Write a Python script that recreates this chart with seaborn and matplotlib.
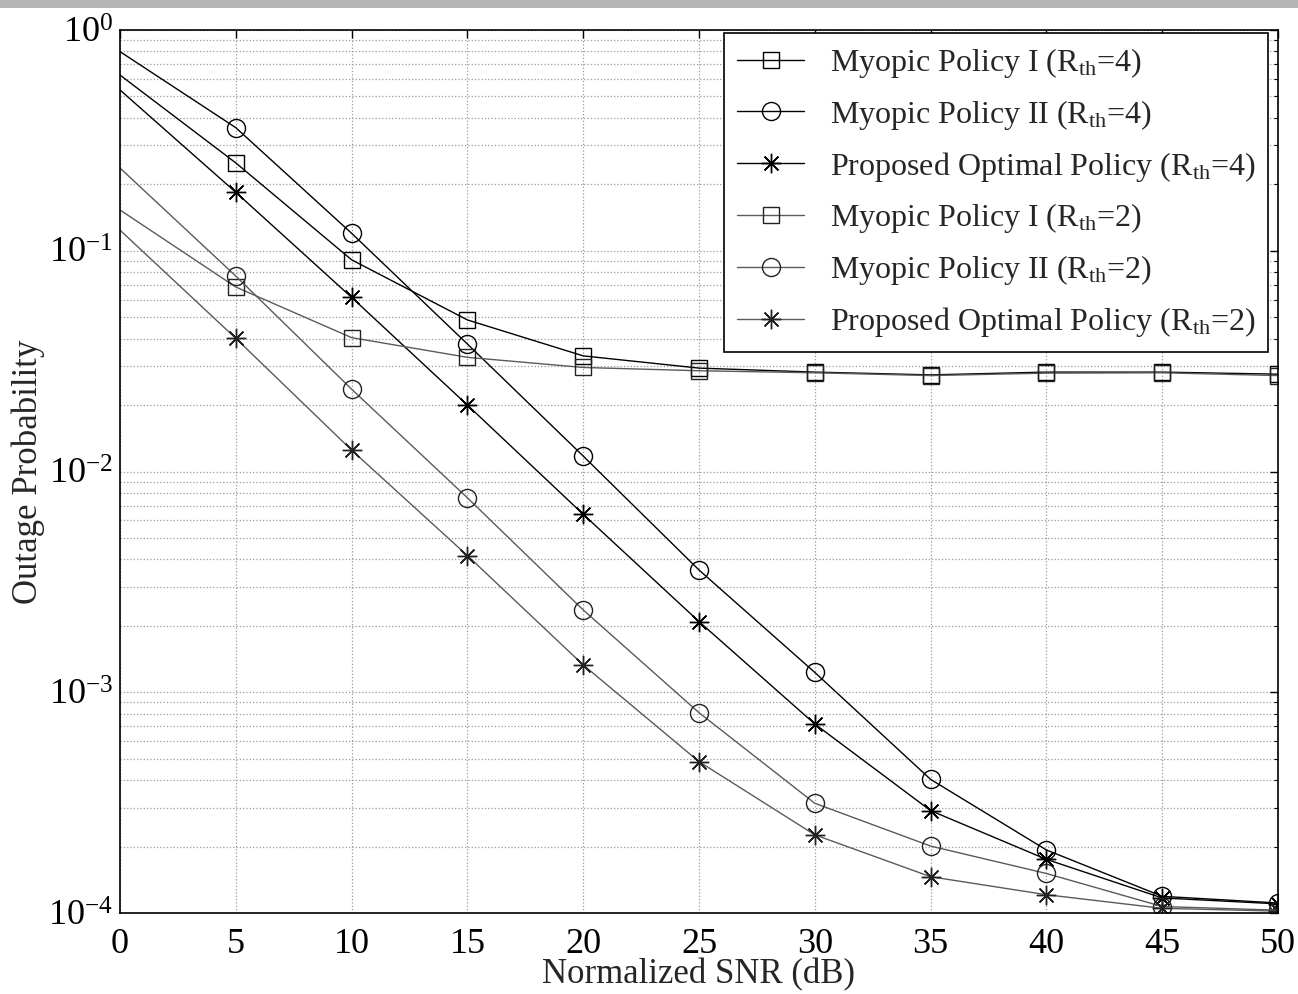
import numpy as np
import pandas as pd
import matplotlib
matplotlib.use("Agg")
import matplotlib.pyplot as plt
import seaborn as sns
from matplotlib.ticker import LogLocator, NullFormatter, MultipleLocator

# ---- data ----
snr_db = [0, 5, 10, 15, 20, 25, 30, 35, 40, 45, 50]
myopic1_r4 = [0.625, 0.250, 0.091, 0.0486, 0.0334, 0.0294, 0.0282, 0.0274, 0.0282, 0.0282, 0.0276]
myopic2_r4 = [0.798, 0.361, 0.120, 0.0378, 0.01175, 0.00358, 0.00123, 4.03e-4, 1.93e-4, 1.19e-4, 1.11e-4]
optimal_r4 = [0.535, 0.184, 0.0615, 0.0200, 0.0064, 0.00209, 7.18e-4, 2.91e-4, 1.75e-4, 1.17e-4, 1.10e-4]
myopic1_r2 = [0.153, 0.0685, 0.0404, 0.0329, 0.0296, 0.0286, 0.0280, 0.0272, 0.0279, 0.0280, 0.0272]
myopic2_r2 = [0.237, 0.0768, 0.0236, 0.0076, 0.00236, 8.08e-4, 3.14e-4, 2.01e-4, 1.51e-4, 1.07e-4, 1.03e-4]
optimal_r2 = [0.124, 0.0401, 0.0125, 0.00416, 0.00133, 4.85e-4, 2.26e-4, 1.46e-4, 1.21e-4, 1.05e-4, 1.02e-4]

labels = [
    r"Myopic Policy I (R$_{\rm th}$=4)",
    r"Myopic Policy II (R$_{\rm th}$=4)",
    r"Proposed Optimal Policy (R$_{\rm th}$=4)",
    r"Myopic Policy I (R$_{\rm th}$=2)",
    r"Myopic Policy II (R$_{\rm th}$=2)",
    r"Proposed Optimal Policy (R$_{\rm th}$=2)",
]
series = [myopic1_r4, myopic2_r4, optimal_r4, myopic1_r2, myopic2_r2, optimal_r2]

sns.set_style("white")
plt.rcParams["font.family"] = ["Liberation Serif", "DejaVu Serif"]
plt.rcParams["mathtext.fontset"] = "custom"
plt.rcParams["mathtext.rm"] = "Liberation Serif"
plt.rcParams["mathtext.it"] = "Liberation Serif:italic"
plt.rcParams["mathtext.default"] = "regular"

fig = plt.figure(figsize=(12.98, 9.94), dpi=100)
# grey strip at the top of the screenshot
fig.patches.append(plt.Rectangle((0, 1 - 8 / 994), 1, 8 / 994, transform=fig.transFigure,
                                 facecolor="#b4b4b4", edgecolor="none", zorder=0))
ax = fig.add_axes([120 / 1298, 1 - 913 / 994, (1278 - 120) / 1298, (913 - 30) / 994])

markers = ["s", "o", (8, 2, 0), "s", "o", (8, 2, 0)]
msizes = [11.5, 13, 14, 11.5, 13, 14]
colors = ["black", "black", "black", "#5a5a5a", "#5a5a5a", "#5a5a5a"]
lws = [1.0, 1.0, 1.0, 1.0, 1.0, 1.0]

for vals, lab, mk, ms, c, lw in zip(series, labels, markers, msizes, colors, lws):
    sns.lineplot(x=snr_db, y=vals, ax=ax, label=lab, color=c, linewidth=lw,
                 marker=mk, markersize=ms, markerfacecolor="none",
                 markeredgecolor="black" if c == "black" else "#222222",
                 markeredgewidth=1.0, markevery=list(range(1, len(snr_db))),
                 sort=False, estimator=None, clip_on=True)

ax.set_yscale("log")
ax.set_xlim(0, 50)
ax.set_ylim(1e-4, 1)
ax.xaxis.set_major_locator(MultipleLocator(5))
ax.yaxis.set_major_locator(LogLocator(base=10, numticks=10))
ax.yaxis.set_minor_locator(LogLocator(base=10, subs=np.arange(2, 10), numticks=20))
ax.yaxis.set_minor_formatter(NullFormatter())

ax.grid(True, which="major", axis="both", color="#9a9a9a", linestyle=":", linewidth=0.9)
ax.grid(True, which="minor", axis="y", color="#9a9a9a", linestyle=":", linewidth=0.9)
ax.set_axisbelow(True)

for sp in ax.spines.values():
    sp.set_color("black")
    sp.set_linewidth(1.2)

ax.tick_params(axis="both", which="both", direction="in", top=True, right=True,
               colors="black", labelcolor="black")
ax.tick_params(axis="both", which="major", length=6, width=1.0, labelsize=26)
ax.tick_params(axis="y", which="minor", length=3, width=0.8)
ax.tick_params(axis="x", which="major", pad=11)
ax.tick_params(axis="y", which="major", pad=5)

ax.set_xlabel("Normalized SNR (dB)", fontsize=25, labelpad=-2)
ax.set_ylabel("Outage Probability", fontsize=25, labelpad=2)

leg = ax.legend(loc="upper right", bbox_to_anchor=((1268 - 120) / 1158, (913 - 33) / 883),
                borderaxespad=0, fontsize=23, frameon=True, fancybox=False,
                edgecolor="black", framealpha=1, handlelength=2.1, handletextpad=0.8,
                labelspacing=0.56, borderpad=0.4)
leg.get_frame().set_linewidth(1.2)

fig.savefig("out.png", dpi=100)
